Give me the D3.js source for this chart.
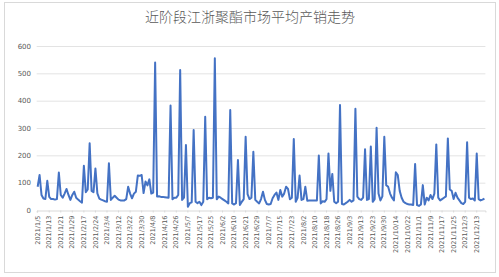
<!DOCTYPE html>
<html><head><meta charset="utf-8">
<script src="https://cdn.jsdelivr.net/npm/d3@7"></script>
<style>body{margin:0;background:#fff}svg{display:block}</style>
</head><body>
<script>
const title = "近阶段江浙聚酯市场平均产销走势";
const tickLabels = ["2021/1/5","2021/1/13","2021/1/21","2021/1/29","2021/2/17","2021/2/24","2021/3/4","2021/3/12","2021/3/22","2021/3/30","2021/4/8","2021/4/16","2021/4/26","2021/5/7","2021/5/17","2021/5/25","2021/6/2","2021/6/10","2021/6/21","2021/6/29","2021/7/7","2021/7/15","2021/7/23","2021/8/2","2021/8/10","2021/8/18","2021/8/26","2021/9/3","2021/9/13","2021/9/23","2021/9/30","2021/10/14","2021/10/22","2021/11/1","2021/11/9","2021/11/17","2021/11/25","2021/12/3","2021/12/13"];
const yTicks = [0,100,200,300,400,500,600];
const values = [
85,128,55,42,40,107,48,40,40,38,
40,137,55,45,60,77,55,37,55,67,
45,38,32,27,162,65,75,244,70,65,
152,61,42,38,35,32,30,171,37,45,
52,45,38,35,35,35,40,85,60,43,
60,67,126,125,128,62,104,90,112,60,
64,540,49,50,48,48,47,46,45,382,
39,45,45,55,512,37,45,238,12,25,
28,293,30,25,30,18,30,341,39,45,
43,45,555,39,49,45,40,35,30,24,
366,24,20,25,183,18,30,40,268,58,
40,45,213,37,30,24,40,67,37,22,
20,22,43,55,64,37,73,49,60,85,
77,39,45,260,30,45,126,37,40,85,
34,35,35,35,35,35,199,24,32,30,
40,207,70,132,30,25,30,384,22,20,
25,30,37,30,35,370,49,40,37,45,
222,37,40,232,30,40,301,60,35,50,
268,91,85,60,45,35,138,128,70,45,
30,25,22,20,20,18,168,18,15,20,
91,20,45,35,55,40,60,240,45,35,
40,45,50,262,75,70,40,63,45,35,
25,22,30,248,45,40,42,35,207,40,
35,38,42
];
const idx = values.map((d,i)=>i);

const W = 499, H = 277;
const svg = d3.select("body").append("svg").attr("width",W).attr("height",H);
svg.append("rect").attr("x",4.5).attr("y",2.5).attr("width",491).attr("height",270)
  .attr("fill","#fff").attr("stroke","#d9d9d9");

const x = d3.scaleBand().domain(idx).range([36.7,485.4]);
const y = d3.scaleLinear().domain([0,600]).range([210,46]);
const cx = i => x(i) + x.bandwidth()/2;

// grid
svg.append("g").selectAll("line").data(yTicks.filter(d=>d>0)).join("line")
  .attr("x1",36.7).attr("x2",485.4).attr("y1",d=>y(d)+0.5).attr("y2",d=>y(d)+0.5)
  .attr("stroke","#e3e3e3").attr("stroke-width",1);

// y labels
svg.append("g").selectAll("text").data(yTicks).join("text")
  .attr("x",31).attr("y",d=>y(d)+2.5).attr("text-anchor","end")
  .attr("font-family","'DejaVu Sans',sans-serif").attr("font-size",7).attr("fill","#595959")
  .text(d=>d);

// x axis
const xAxis = d3.axisBottom(x)
  .tickValues(tickLabels.map((d,k)=>k*6))
  .tickFormat(i=>tickLabels[i/6])
  .tickSize(2).tickPadding(3);
const gx = svg.append("g").attr("transform","translate(0,210.5)").call(xAxis);
gx.select(".domain").attr("stroke","#d9d9d9");
gx.selectAll(".tick line").attr("stroke","#d9d9d9");
gx.selectAll(".tick text")
  .attr("font-family","'DejaVu Sans',sans-serif").attr("font-size",6.5).attr("fill","#595959")
  .attr("transform","rotate(-90)").attr("text-anchor","end")
  .attr("x",-5).attr("y",0).attr("dy","0.32em");

// line
svg.append("path").datum(values)
  .attr("fill","none").attr("stroke","#4472C4").attr("stroke-width",2)
  .attr("stroke-linejoin","round")
  .attr("d", d3.line().x((d,i)=>cx(i)).y(d=>y(d)));

// title
svg.append("text").attr("x",250).attr("y",22).attr("text-anchor","middle")
  .attr("font-family","'Noto Sans CJK SC',sans-serif").attr("font-size",14)
  .attr("font-weight",300).attr("fill","#595959").text(title);
</script>
</body></html>
